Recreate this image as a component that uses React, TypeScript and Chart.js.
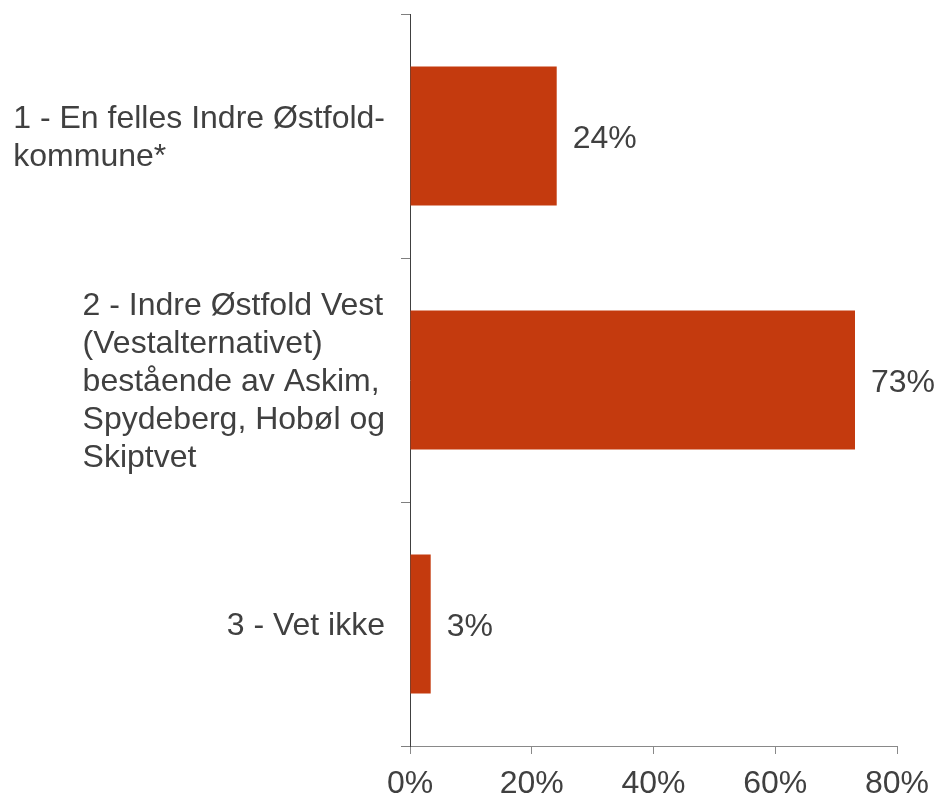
import React, { useEffect, useRef } from 'react';
import { Chart, registerables } from 'chart.js';

Chart.register(...registerables);

const categories: string[][] = [
  ['1 - En felles Indre Østfold-', 'kommune*'],
  ['2 - Indre Østfold Vest', '(Vestalternativet)', 'bestående av Askim,', 'Spydeberg, Hobøl og', 'Skiptvet'],
  ['3 - Vet ikke'],
];
const values: number[] = [24.1, 73.1, 3.4];
const valueLabels: string[] = ['24%', '73%', '3%'];
const xTicks: number[] = [0, 20, 40, 60, 80];

const FONT = '"Liberation Sans", Arial, sans-serif';
const FS = 32;
const LH = 38;
const TEXT = '#404040';
const BAR = '#C43A0E';

const labelPlugin = {
  id: 'customLabels',
  afterDraw(chart: any) {
    const ctx = chart.ctx as CanvasRenderingContext2D;
    const y = chart.scales.y;
    const capHalf = FS * 0.358;
    ctx.save();
    ctx.font = `${FS}px ${FONT}`;
    ctx.fillStyle = TEXT;
    ctx.textBaseline = 'alphabetic';
    ctx.textAlign = 'left';
    categories.forEach((lines, i) => {
      const cy = y.getPixelForTick(i);
      const w = Math.max(...lines.map((l) => ctx.measureText(l).width));
      const x0 = chart.chartArea.left - 25 - w;
      const top = cy - ((lines.length - 1) * LH) / 2;
      lines.forEach((l, j) => ctx.fillText(l, x0, top + j * LH + capHalf));
    });
    const meta = chart.getDatasetMeta(0);
    meta.data.forEach((bar: any, i: number) => {
      ctx.fillText(valueLabels[i], bar.x + 16, bar.y + capHalf + 1);
    });
    ctx.restore();
  },
};

export default function App() {
  const ref = useRef<HTMLCanvasElement | null>(null);
  useEffect(() => {
    document.body.style.margin = '0';
    const canvas = ref.current!;
    const chart = new Chart(canvas, {
      type: 'bar',
      data: {
        labels: categories.map((c) => c.join(' ')),
        datasets: [
          {
            data: values,
            backgroundColor: BAR,
            barPercentage: 0.57,
            categoryPercentage: 1,
          },
        ],
      },
      options: {
        indexAxis: 'y',
        responsive: false,
        animation: false,
        layout: { padding: { top: 14, right: 41, left: 0, bottom: 0 } },
        plugins: { legend: { display: false }, tooltip: { enabled: false } },
        scales: {
          x: {
            min: xTicks[0],
            max: xTicks[xTicks.length - 1],
            afterBuildTicks: (s: any) => {
              s.ticks = xTicks.map((v) => ({ value: v }));
            },
            ticks: {
              callback: (v: any) => v + '%',
              font: { family: FONT, size: FS },
              color: TEXT,
              padding: 11,
              maxRotation: 0,
            },
            grid: { drawOnChartArea: false, tickLength: 8, color: '#898989' },
            border: { color: '#898989' },
            afterFit: (s: any) => {
              s.height = 51;
              s.paddingLeft = 0;
              s.paddingRight = 0;
            },
          },
          y: {
            ticks: { display: false },
            grid: { drawOnChartArea: false, tickLength: 9, color: '#7f7f7f', offset: true },
            border: { color: '#404040' },
            afterFit: (s: any) => {
              s.width = 410;
              s.paddingTop = 0;
              s.paddingBottom = 0;
            },
          },
        },
      },
      plugins: [labelPlugin],
    } as any);
    return () => chart.destroy();
  }, []);
  return <canvas ref={ref} width={938} height={797} style={{ display: 'block' }} />;
}
